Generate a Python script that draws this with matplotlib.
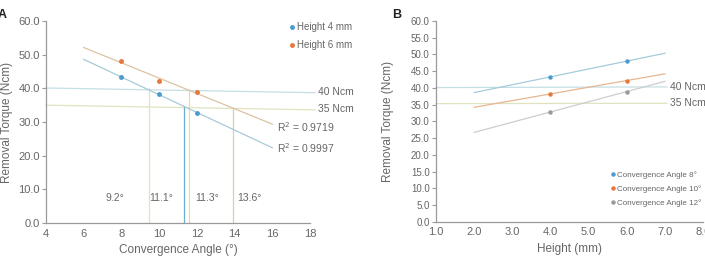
import numpy as np
import matplotlib
matplotlib.use("Agg")
import matplotlib.pyplot as plt

plt.rcParams['font.family'] = ['Liberation Sans', 'DejaVu Sans']

# data
angles = [8, 10, 12]
heights = [4, 6]
torque_h4 = [43.3, 38.2, 32.8]   # height 4 mm at 8/10/12 deg
torque_h6 = [48.0, 42.2, 38.9]   # height 6 mm at 8/10/12 deg
r2_labels = ["R$^2$ = 0.9719", "R$^2$ = 0.9997"]
cut_angles = [9.45, 11.33, 11.58, 13.9]      # where the guide lines are drawn
cut_tops = [40.0, 34.6, 39.6, 34.3]
cut_labels = ["9.2°", "11.1°", "11.3°", "13.6°"]
cut_label_x = [7.66, 10.1, 12.55, 14.77]
ca_names = ["Convergence Angle 8°", "Convergence Angle 10°", "Convergence Angle 12°"]

TXT = "#666666"
AXC = "#9a9a9a"
BLUE = "#4a9bd0"
ORANGE = "#e8773a"
GRAY = "#9a9a9a"
BLUE_L = "#a6cbd9"
ORANGE_L = "#dcc3a3"
GRAY_L = "#cdcdcd"
H40 = "#c4dfe4"
H35 = "#dfe4bf"
vcolors = ["#e6e2bd", "#6aaed0", "#f0d6a0", "#d3d6a3"]

fig = plt.figure(figsize=(7.05, 2.57), dpi=100)
axA = fig.add_axes([46 / 705, 34 / 257, 264 / 705, 202 / 257])
axB = fig.add_axes([436 / 705, 35.3 / 257, 267 / 705, 200.7 / 257])


def style(ax):
    for s in ["top", "right"]:
        ax.spines[s].set_visible(False)
    for s in ["left", "bottom"]:
        ax.spines[s].set_color(AXC)
        ax.spines[s].set_linewidth(0.9)
    ax.tick_params(colors=AXC, labelcolor=TXT, length=3, width=0.8, pad=1.5)
    ax.tick_params(axis="x", length=0, pad=4)


# ---- panel A ----
style(axA)
xs = np.array([6, 16])
for vals, col in [(torque_h6, ORANGE_L), (torque_h4, BLUE_L)]:
    k, b = np.polyfit(angles, vals, 1)
    axA.plot(xs, k * xs + b, color=col, lw=0.9, zorder=2)

axA.plot([4, 18.27], [40.1, 38.7], color=H40, lw=0.9, clip_on=False, zorder=1)
axA.plot([4, 18.27], [35.0, 33.6], color=H35, lw=0.9, clip_on=False, zorder=1)
axA.text(18.42, 38.9, "40 Ncm", fontsize=7.5, color=TXT, va="center")
axA.text(18.42, 34.0, "35 Ncm", fontsize=7.5, color=TXT, va="center")

for xv, top, col in zip(cut_angles, cut_tops, vcolors):
    axA.plot([xv, xv], [0, top], color=col, lw=0.9, zorder=1)
for xv, lab in zip(cut_label_x, cut_labels):
    axA.text(xv, 7.5, lab, fontsize=7.5, color=TXT, ha="center", va="center")

axA.plot(angles, torque_h4, "o", ms=2.5, color=BLUE, label="Height 4 mm", zorder=3)
axA.plot(angles, torque_h6, "o", ms=2.5, color=ORANGE, label="Height 6 mm", zorder=3)
axA.text(16.25, 28.6, r2_labels[0], fontsize=7.5, color=TXT, va="center")
axA.text(16.25, 22.2, r2_labels[1], fontsize=7.5, color=TXT, va="center")

axA.set_xlim(4, 18)
axA.set_ylim(0, 60)
axA.set_xticks(range(4, 19, 2))
axA.set_yticks(range(0, 61, 10))
axA.set_yticklabels([f"{v:.1f}" for v in range(0, 61, 10)])
axA.tick_params(labelsize=8)
axA.set_xlabel("Convergence Angle (°)", fontsize=8.5, color=TXT, labelpad=4)
axA.set_ylabel("Removal Torque (Ncm)", fontsize=8.5, color=TXT)
axA.yaxis.set_label_coords(-0.125, 0.5)
axA.legend(loc="upper left", bbox_to_anchor=(0.92, 0.995), frameon=False,
           fontsize=7, labelcolor=TXT, handlelength=0.6, handletextpad=0.2,
           borderaxespad=0, labelspacing=0.85, borderpad=0)

# ---- panel B ----
style(axB)
ca_data = [[torque_h4[i], torque_h6[i]] for i in range(3)]
pt_cols = [BLUE, ORANGE, GRAY]
ln_cols = [BLUE_L, "#e7b690", GRAY_L]
xb = np.array([2, 7])
axB.plot([1, 7.05], [40.1, 40.3], color=H40, lw=0.9, clip_on=False, zorder=1)
axB.plot([1, 7.05], [35.3, 35.4], color=H35, lw=0.9, clip_on=False, zorder=1)
axB.text(7.14, 40.2, "40 Ncm", fontsize=7.5, color=TXT, va="center")
axB.text(7.14, 35.6, "35 Ncm", fontsize=7.5, color=TXT, va="center")
for vals, pc, lc, name in zip(ca_data, pt_cols, ln_cols, ca_names):
    k, b = np.polyfit(heights, vals, 1)
    axB.plot(xb, k * xb + b, color=lc, lw=0.9, zorder=2)
    axB.plot(heights, vals, "o", ms=2.2, color=pc, label=name, zorder=3)

axB.set_xlim(1, 8)
axB.set_ylim(0, 60)
axB.set_xticks(range(1, 9))
axB.set_xticklabels([f"{v:.1f}" for v in range(1, 9)], fontsize=8)
axB.set_yticks(range(0, 61, 5))
axB.set_yticklabels([f"{v:.1f}" for v in range(0, 61, 5)], fontsize=7)
axB.set_xlabel("Height (mm)", fontsize=8.5, color=TXT, labelpad=4)
axB.set_ylabel("Removal Torque (Ncm)", fontsize=8.5, color=TXT)
axB.yaxis.set_label_coords(-0.157, 0.5)
axB.legend(loc="upper left", bbox_to_anchor=(0.655, 0.25), frameon=False,
           fontsize=5.8, labelcolor=TXT, handlelength=0.5, handletextpad=0.2,
           borderaxespad=0, labelspacing=0.75, borderpad=0)

fig.text(-0.003, 0.94, "A", fontsize=9, fontweight="bold", color="#222222", va="center")
fig.text(392 / 705, 0.94, "B", fontsize=9, fontweight="bold", color="#222222", va="center")

fig.savefig("out.png", dpi=100)
